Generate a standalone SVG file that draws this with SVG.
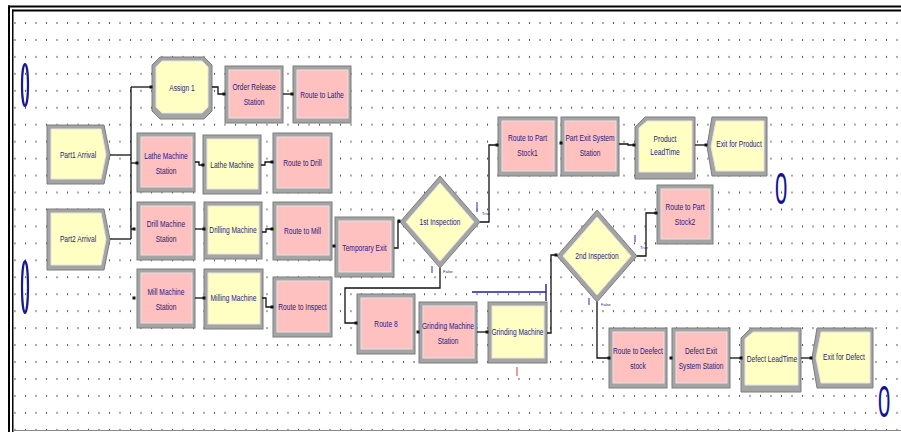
<svg xmlns="http://www.w3.org/2000/svg" width="901" height="432" viewBox="0 0 901 432">
<style>
.bd{fill:#a4a4a4;stroke:#7c7c7c;stroke-width:1}
.pk{fill:#ffc0c0;stroke:#e4e4e4;stroke-width:1}
.yl{fill:#ffffc4;stroke:#e4e4e4;stroke-width:1}
.t{font-family:"Liberation Sans",Arial,sans-serif;font-size:9px;fill:#1c1c80;text-anchor:middle}
.sm{font-family:"Liberation Sans",Arial,sans-serif;font-size:4px;fill:#1c1c80}
.cn path{fill:none;stroke:#111;stroke-width:1.3}
.cn rect{fill:#111}
.tk{fill:none;stroke:#5a5ad0;stroke-width:1.3}
.big{font-family:"Liberation Sans",Arial,sans-serif;font-size:44px;fill:#10109a;text-anchor:middle}
</style>
<defs>
<pattern id="grid" x="14.5" y="22" width="10.5" height="16.95" patternUnits="userSpaceOnUse">
<rect width="1" height="2" fill="#555"/>
</pattern>
</defs>
<rect width="901" height="432" fill="#fff"/>
<rect x="13" y="12" width="888" height="420" fill="url(#grid)"/>
<g id="frame">
<rect x="8" y="5.5" width="893" height="2" fill="#000"/>
<rect x="12" y="9.5" width="889" height="2" fill="#000"/>
<rect x="8" y="5.5" width="2" height="427" fill="#000"/>
<rect x="12" y="9.5" width="1.5" height="423" fill="#000"/>
<rect x="13" y="430" width="888" height="1" fill="#888"/>
</g>
<g id="counters">
<ellipse cx="25" cy="85" rx="3" ry="21" fill="none" stroke="#1a1a90" stroke-width="2.2"/>
<ellipse cx="25" cy="287" rx="3" ry="26" fill="none" stroke="#1a1a90" stroke-width="2.2"/>
<text class="big" transform="translate(781 204) scale(0.5 1)">0</text>
<text class="big" transform="translate(884 417) scale(0.5 1)">0</text>
</g>

<g id="part1-arrival">
<polygon class="bd" points="47,125 104,125 110,154.5 104,184 47,184"/>
<polygon class="yl" points="51,129 101,129 106,154.5 101,179 51,179"/>
<text class="t" transform="translate(78 158) scale(.74 1)">Part1 Arrival</text>
</g>
<g id="part2-arrival">
<polygon class="bd" points="47,209 104,209 110,239.5 104,270 47,270"/>
<polygon class="yl" points="51,213 101,213 106,239.5 101,265 51,265"/>
<text class="t" transform="translate(78 242) scale(.74 1)">Part2 Arrival</text>
</g>
<g id="assign-1">
<polygon class="bd" points="160,57 204,57 212,65 212,111 204,119 160,119 152,111 152,65"/>
<polygon class="yl" points="162,61 202,61 208,67 208,107 202,113 162,113 156,107 156,67"/>
<text class="t" transform="translate(182 91) scale(.74 1)">Assign 1</text>
</g>
<g id="order-release-station">
<rect class="bd" x="225" y="66" width="58" height="57"/>
<rect class="pk" x="229" y="70" width="51" height="48"/>
<text class="t" transform="translate(254 90) scale(.74 1)"><tspan x="0">Order Release</tspan><tspan x="0" dy="15">Station</tspan></text>
</g>
<g id="route-to-lathe">
<rect class="bd" x="293" y="66" width="58" height="57"/>
<rect class="pk" x="297" y="70" width="51" height="48"/>
<text class="t" transform="translate(322 97.5) scale(.74 1)">Route to Lathe</text>
</g>
<g id="lathe-machine-station">
<rect class="bd" x="137" y="133" width="58" height="59"/>
<rect class="pk" x="141" y="137" width="51" height="50"/>
<text class="t" transform="translate(166 159) scale(.74 1)"><tspan x="0">Lathe Machine</tspan><tspan x="0" dy="15">Station</tspan></text>
</g>
<g id="lathe-machine">
<rect class="bd" x="203" y="135" width="58" height="59"/>
<rect class="yl" x="207" y="139" width="51" height="50"/>
<text class="t" transform="translate(232 168) scale(.74 1)">Lathe Machine</text>
</g>
<g id="route-to-drill">
<rect class="bd" x="273" y="133" width="59" height="60"/>
<rect class="pk" x="277" y="137" width="52" height="51"/>
<text class="t" transform="translate(302.5 166) scale(.74 1)">Route to Drill</text>
</g>
<g id="drill-machine-station">
<rect class="bd" x="137" y="202" width="58" height="58"/>
<rect class="pk" x="141" y="206" width="51" height="49"/>
<text class="t" transform="translate(166 227) scale(.74 1)"><tspan x="0">Drill Machine</tspan><tspan x="0" dy="15">Station</tspan></text>
</g>
<g id="drilling-machine">
<rect class="bd" x="204" y="202" width="58" height="57"/>
<rect class="yl" x="208" y="206" width="51" height="48"/>
<text class="t" transform="translate(233 232.5) scale(.74 1)">Drilling Machine</text>
</g>
<g id="route-to-mill">
<rect class="bd" x="273" y="202" width="59" height="58"/>
<rect class="pk" x="277" y="206" width="52" height="49"/>
<text class="t" transform="translate(302.5 234) scale(.74 1)">Route to Mill</text>
</g>
<g id="mill-machine-station">
<rect class="bd" x="137" y="269" width="58" height="59"/>
<rect class="pk" x="141" y="273" width="51" height="50"/>
<text class="t" transform="translate(166 295) scale(.74 1)"><tspan x="0">Mill Machine</tspan><tspan x="0" dy="15">Station</tspan></text>
</g>
<g id="milling-machine">
<rect class="bd" x="204" y="269" width="59" height="60"/>
<rect class="yl" x="208" y="273" width="52" height="51"/>
<text class="t" transform="translate(233.5 300.5) scale(.74 1)">Milling Machine</text>
</g>
<g id="route-to-inspect">
<rect class="bd" x="273" y="277" width="59" height="60"/>
<rect class="pk" x="277" y="281" width="52" height="51"/>
<text class="t" transform="translate(302.5 310) scale(.74 1)">Route to Inspect</text>
</g>
<g id="temporary-exit">
<rect class="bd" x="335" y="217" width="59" height="60"/>
<rect class="pk" x="339" y="221" width="52" height="51"/>
<text class="t" transform="translate(364.5 251) scale(.74 1)">Temporary Exit</text>
</g>
<g id="first-inspection">
<polygon class="bd" points="440,176 480,222 440,268 400,222"/>
<polygon class="yl" points="440,183 474,222 440,261 406,222"/>
<text class="t" transform="translate(440 225) scale(.74 1)">1st Inspection</text>
</g>
<g id="route-8">
<rect class="bd" x="357" y="294" width="58" height="60"/>
<rect class="pk" x="361" y="298" width="51" height="51"/>
<text class="t" transform="translate(386 327) scale(.74 1)">Route 8</text>
</g>
<g id="grinding-machine-station">
<rect class="bd" x="419" y="302" width="58" height="61"/>
<rect class="pk" x="423" y="306" width="51" height="52"/>
<text class="t" transform="translate(448 329) scale(.74 1)"><tspan x="0">Grinding Machine</tspan><tspan x="0" dy="15">Station</tspan></text>
</g>
<g id="grinding-machine">
<rect class="bd" x="488" y="302" width="59" height="61"/>
<rect class="yl" x="492" y="306" width="52" height="52"/>
<text class="t" transform="translate(517.5 335) scale(.74 1)">Grinding Machine</text>
</g>
<g id="route-to-part-stock1">
<rect class="bd" x="498" y="117" width="59" height="59"/>
<rect class="pk" x="502" y="121" width="52" height="50"/>
<text class="t" transform="translate(527.5 141) scale(.74 1)"><tspan x="0">Route to Part</tspan><tspan x="0" dy="15">Stock1</tspan></text>
</g>
<g id="part-exit-system-station">
<rect class="bd" x="561" y="117" width="58" height="59"/>
<rect class="pk" x="565" y="121" width="51" height="50"/>
<text class="t" transform="translate(590 141) scale(.74 1)"><tspan x="0">Part Exit System</tspan><tspan x="0" dy="15">Station</tspan></text>
</g>
<g id="product-leadtime">
<polygon class="bd" points="635,127 645,117 695,117 695,179 635,179"/>
<polygon class="yl" points="639,128 647,121 692,121 692,172 639,172"/>
<text class="t" transform="translate(665 142) scale(.74 1)"><tspan x="0">Product</tspan><tspan x="0" dy="13">LeadTime</tspan></text>
</g>
<g id="exit-for-product">
<polygon class="bd" points="712,117 767,117 767,176 712,176 707,146.5"/>
<polygon class="yl" points="716,121 764,121 764,171 716,171 711,146.5"/>
<text class="t" transform="translate(739 147) scale(.74 1)">Exit for Product</text>
</g>
<g id="route-to-part-stock2">
<rect class="bd" x="657" y="185" width="56" height="59"/>
<rect class="pk" x="661" y="189" width="49" height="50"/>
<text class="t" transform="translate(685 210) scale(.74 1)"><tspan x="0">Route to Part</tspan><tspan x="0" dy="15">Stock2</tspan></text>
</g>
<g id="second-inspection">
<polygon class="bd" points="597,210 637,256 597,302 557,256"/>
<polygon class="yl" points="597,217 631,256 597,295 563,256"/>
<text class="t" transform="translate(597 259) scale(.74 1)">2nd Inspection</text>
</g>
<g id="route-to-deefect-stock">
<rect class="bd" x="609" y="328" width="58" height="60"/>
<rect class="pk" x="613" y="332" width="51" height="51"/>
<text class="t" transform="translate(638 354) scale(.74 1)"><tspan x="0">Route to Deefect</tspan><tspan x="0" dy="15">stock</tspan></text>
</g>
<g id="defect-exit-system-station">
<rect class="bd" x="672" y="328" width="58" height="60"/>
<rect class="pk" x="676" y="332" width="51" height="51"/>
<text class="t" transform="translate(701 354) scale(.74 1)"><tspan x="0">Defect Exit</tspan><tspan x="0" dy="15">System Station</tspan></text>
</g>
<g id="defect-leadtime">
<polygon class="bd" points="741,338 751,328 801,328 801,392 741,392"/>
<polygon class="yl" points="745,339 753,332 798,332 798,385 745,385"/>
<text class="t" transform="translate(772 362) scale(.74 1)">Defect LeadTime</text>
</g>
<g id="exit-for-defect">
<polygon class="bd" points="817,328 873,328 873,388 817,388 812,358"/>
<polygon class="yl" points="821,332 870,332 870,383 821,383 816,358"/>
<text class="t" transform="translate(844 360) scale(.74 1)">Exit for Defect</text>
</g>

<g id="connectors" class="cn">
<path d="M110 155H131"/>
<path d="M131 87V239"/>
<path d="M131 87H151"/>
<path d="M131 163H137"/>
<path d="M110 239H131"/>
<path d="M131 229H135"/>
<path d="M212 87H218V94H224"/>
<path d="M283 94H292"/>
<path d="M195 162H199V165H203"/>
<path d="M261 165H265V162H272"/>
<path d="M195 229H204"/>
<path d="M262 232H266V229H272"/>
<path d="M195 298H204"/>
<path d="M262 298H266V307H272"/>
<path d="M394 248H398V222H400"/>
<path d="M480 222H489V145H497"/>
<path d="M440 268V288H345V323H356"/>
<path d="M477 332H487"/>
<path d="M547 333H551V255H557"/>
<path d="M637 256H646V213H656"/>
<path d="M597 302V358H609"/>
<path d="M619 144H628V145H634"/>
<path d="M695 145H706"/>
<path d="M730 358H741"/>
<path d="M801 358H811"/>
<rect x="149.5" y="85.5" width="3" height="3"/>
<rect x="222.5" y="92.5" width="3" height="3"/>
<rect x="290.5" y="92.5" width="3" height="3"/>
<rect x="135.5" y="161.5" width="3" height="3"/>
<rect x="201.5" y="163.5" width="3" height="3"/>
<rect x="270.5" y="160.5" width="3" height="3"/>
<rect x="132.5" y="227.5" width="3" height="3"/>
<rect x="202.5" y="227.5" width="3" height="3"/>
<rect x="270.5" y="227.5" width="3" height="3"/>
<rect x="132.5" y="296.5" width="3" height="3"/>
<rect x="202.5" y="296.5" width="3" height="3"/>
<rect x="270.5" y="305.5" width="3" height="3"/>
<rect x="332.5" y="244.5" width="3" height="3"/>
<rect x="397.5" y="219.5" width="3" height="3"/>
<rect x="495.5" y="143.5" width="3" height="3"/>
<rect x="559.5" y="141.5" width="3" height="3"/>
<rect x="632.5" y="143.5" width="3" height="3"/>
<rect x="704.5" y="143.5" width="3" height="3"/>
<rect x="354.5" y="321.5" width="3" height="3"/>
<rect x="416.5" y="330.5" width="3" height="3"/>
<rect x="485.5" y="330.5" width="3" height="3"/>
<rect x="554.5" y="253.5" width="3" height="3"/>
<rect x="654.5" y="211.5" width="3" height="3"/>
<rect x="607.5" y="356.5" width="3" height="3"/>
<rect x="669.5" y="356.5" width="3" height="3"/>
<rect x="739.5" y="356.5" width="3" height="3"/>
<rect x="809.5" y="356.5" width="3" height="3"/>
</g>

<g id="animation">
<path d="M472 292H546M546 284V301" fill="none" stroke="#2020a0" stroke-width="1.4"/>
<path d="M517 367V376" fill="none" stroke="#e07070" stroke-width="1.4"/>
<path class="tk" d="M477 202V212M432 266V273M635 235V242M589 298V305"/>
<text class="sm" x="482" y="215">True</text>
<text class="sm" x="443" y="273">False</text>
<text class="sm" x="640" y="249">True</text>
<text class="sm" x="601" y="306">False</text>
</g>
</svg>
